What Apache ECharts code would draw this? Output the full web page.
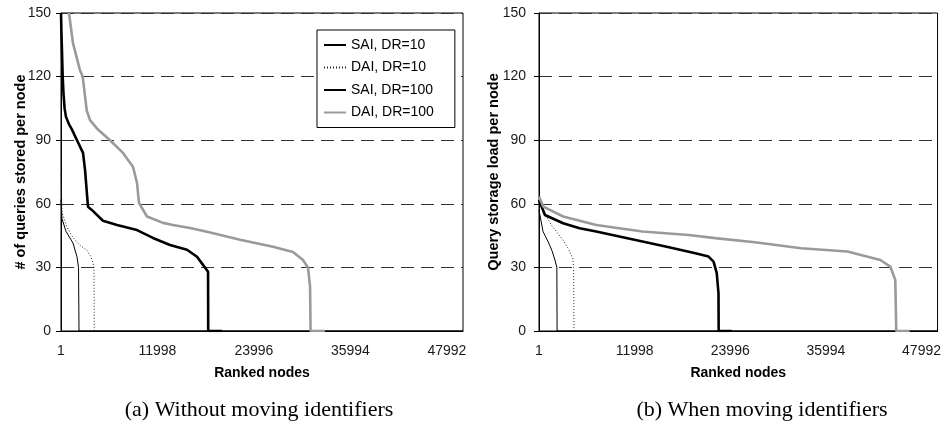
<!DOCTYPE html>
<html><head><meta charset="utf-8">
<script src="https://cdn.jsdelivr.net/npm/echarts@6/dist/echarts.min.js"></script>
<style>html,body{margin:0;padding:0;background:#fff}#c{width:944px;height:430px}</style>
</head><body><div id="c"></div>
<script>
// ---- data ----
const seriesNames = ['SAI, DR=10', 'DAI, DR=10', 'SAI, DR=100', 'DAI, DR=100'];
const xTickLabels = [1, 11998, 23996, 35994, 47992];
const xMin = 1;
const xMax = 50000;
const yMax = 150;
const yInterval = 30;
const captions = ['(a) Without moving identifiers', '(b) When moving identifiers'];
const yTitles = ['# of queries stored per node', 'Query storage load per node'];
const xTitle = 'Ranked nodes';

// (a) Without moving identifiers : [ranked node, value]
const saiDR10_a = [[1,62],[124,53],[620,47],[1490,41.5],[1990,35],[2180,30],[2240,0],[50000,0]];
const daiDR10_a = [[1,75],[60,65],[124,56],[750,49],[1490,44],[2360,40.5],[3230,38],[3730,35],[3980,32],[4100,30],[4140,0],[50000,0]];
const saiDR100_a = [[1,150],[60,140],[124,132],[210,120],[311,112],[450,105],[620,101],[1000,97.5],[1370,95],[1990,90],[2740,84],[2990,76],[3200,66],[3360,58.6],[3860,57],[5220,52],[6970,50],[9450,47.6],[11440,43.9],[13560,40.6],[15670,38.3],[16920,35],[17660,31.2],[18290,27.9],[18310,0],[20030,0]];
const daiDR100_a = [[995,150],[1490,135.8],[2360,123],[2700,120],[3200,104],[3610,99.5],[4600,95],[6100,90],[7710,84],[8950,77.5],[9450,70],[9700,60.4],[10700,54],[12690,51],[13930,50],[16050,48.6],[18160,46.8],[22270,43],[26370,39.7],[28860,37.3],[30100,33.5],[30730,29.8],[30980,20.8],[31040,0],[32840,0]];

// (b) When moving identifiers
const saiDR10_b = [[1,57],[500,47],[1160,42],[1620,38],[2000,33.5],[2240,30],[2270,0],[50000,0]];
const daiDR10_b = [[1,61],[250,58.6],[1550,50],[2990,43],[3730,38.5],[4230,34.3],[4350,30],[4390,0],[50000,0]];
const saiDR100_b = [[1,61.8],[746,54.7],[3030,50.8],[5100,48.5],[7180,46.9],[12980,42.2],[16300,39.5],[19620,36.7],[21270,35.1],[21900,32.7],[22300,27.3],[22520,17.8],[22540,0],[24170,0]];
const daiDR100_b = [[1,63.4],[535,58.7],[3030,54],[7180,50],[12980,46.9],[18780,45.3],[22100,43.8],[27080,41.9],[32880,39],[38690,37.5],[42830,33.5],[44070,30.4],[44700,24.1],[44820,0],[46500,0]];

// ---- chart ----
const FONT = '"Liberation Sans", Arial, sans-serif';
const styles = [
  {color:'#000', width:1, type:'solid'},
  {color:'#222', width:1, type:[1,2]},
  {color:'#000', width:2.6, type:'solid'},
  {color:'#9a9a9a', width:2.6, type:'solid'}
];
const panels = [
  {grid:{left:61, top:13, width:402, height:318}, data:[saiDR10_a, daiDR10_a, saiDR100_a, daiDR100_a], labelMargin:10, nameGap:33},
  {grid:{left:539, top:13, width:401, height:318}, data:[saiDR10_b, daiDR10_b, saiDR100_b, daiDR100_b], labelMargin:13, nameGap:38}
];

const option = {
  animation:false,
  backgroundColor:'#fff',
  grid: panels.map(p => Object.assign({show:true, borderColor:'#000', borderWidth:1, backgroundColor:'transparent', containLabel:false}, p.grid)),
  xAxis: panels.map((p, i) => ({
    gridIndex:i, type:'value', min:xMin, max:xMax,
    axisLine:{show:true, onZero:false, lineStyle:{color:'#000', width:1}},
    axisTick:{show:false},
    splitLine:{show:false},
    axisLabel:{customValues:xTickLabels, formatter:v => String(v), margin:13, fontSize:14, color:'#1a1a1a', fontFamily:FONT},
    name:xTitle, nameLocation:'middle', nameGap:35, nameMoveOverlap:false,
    nameTextStyle:{fontSize:14, fontWeight:'bold', color:'#000', fontFamily:FONT}
  })),
  yAxis: panels.map((p, i) => ({
    gridIndex:i, type:'value', min:0, max:yMax, interval:yInterval,
    axisLine:{show:true, lineStyle:{color:'#000', width:1}},
    axisTick:{show:true, inside:false, length:5, lineStyle:{color:'#000'}},
    axisLabel:{margin:p.labelMargin, fontSize:14, color:'#1a1a1a', fontFamily:FONT},
    splitLine:{show:true, lineStyle:{type:[13,7], color:'#333', width:1}},
    name:yTitles[i], nameLocation:'middle', nameGap:p.nameGap, nameMoveOverlap:false,
    nameTextStyle:{fontSize:14.5, fontWeight:'bold', color:'#000', fontFamily:FONT}
  })),
  legend:{
    data:seriesNames, orient:'vertical', left:317, top:30,
    itemWidth:22, itemHeight:14, itemGap:8.5,
    padding:[8,21,8,6], borderColor:'#000', borderWidth:1, backgroundColor:'#fff',
    itemStyle:{opacity:0},
    textStyle:{fontSize:14, color:'#000', fontFamily:FONT},
    selectedMode:false
  },
  series: [],
  graphic: captions.map((t, i) => ({
    type:'text', x:[259, 762][i], y:410,
    style:{text:t, fontSize:22, fontFamily:'"Liberation Serif", serif', fill:'#000', align:'center', verticalAlign:'middle', textAlign:'center', textVerticalAlign:'middle'}
  }))
};
panels.forEach((p, i) => {
  p.data.forEach((d, k) => {
    option.series.push({
      name:seriesNames[k], type:'line', xAxisIndex:i, yAxisIndex:i,
      data:d, showSymbol:false, symbol:'none', clip:true,
      lineStyle:styles[k], itemStyle:{color:styles[k].color},
      emphasis:{disabled:true}
    });
  });
});
const chart = echarts.init(document.getElementById('c'), null, {renderer:'canvas'});
chart.setOption(option);
</script>
</body></html>
